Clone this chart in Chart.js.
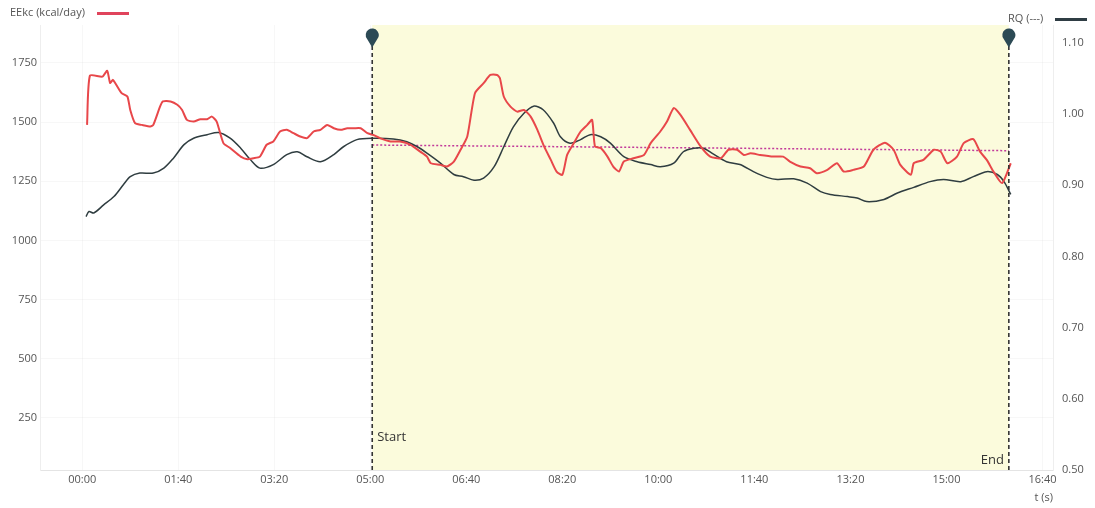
<!DOCTYPE html>
<html lang="en">
<head>
    <meta charset="UTF-8">
    <title>EEkc / RQ</title>
    <script src="https://cdn.jsdelivr.net/npm/chart.js"></script>
    <style>
        body { margin: 0; background: #fff; }
        .wrap { position: relative; width: 1095px; height: 508px; }
        .legend { position: absolute; font-family: 'Open Sans', sans-serif; font-size: 11px; color: #555; }
        .legend .swatch { display: inline-block; width: 32px; height: 3px; vertical-align: middle; margin-left: 12px; }
    </style>
</head>
<body>
<div class="wrap">
    <canvas id="chart"></canvas>
    <div class="legend" style="left:10px; top:4px;">EEkc (kcal/day)<span class="swatch" style="background:#e0445c"></span></div>
    <div class="legend" style="left:1008px; top:10px;">RQ (---)<span class="swatch" style="background:#2f3d44"></span></div>
</div>

<script>
    // EE (kcal/day), left axis
    const eeTimes = [5, 8, 21, 26, 29, 32, 41, 47, 50, 55, 62, 71, 74, 81, 84, 92, 99, 104, 109, 116, 123, 130, 135, 140,
        147, 154, 165, 172, 178, 185, 192, 199, 206, 213, 220, 227, 234, 241, 248, 255, 262, 269, 276, 283, 290, 297,
        303, 310, 321, 331, 342, 352, 359, 363, 373, 380, 387, 394, 401, 409, 418, 425, 432, 435, 439, 446, 453, 460,
        467, 474, 481, 488, 494, 500, 505, 512, 519, 526, 531, 534, 540, 547, 553, 559, 564, 574, 585, 592, 602, 609,
        616, 623, 633, 644, 654, 665, 673, 682, 689, 696, 706, 720, 730, 737, 748, 758, 765, 776, 786, 793, 803, 814,
        824, 836, 845, 852, 863, 866, 876, 887, 894, 901, 911, 918, 928, 935, 942, 949, 958, 967];
    const eeValues = [1488, 1696, 1692, 1717, 1665, 1678, 1622, 1608, 1551, 1495, 1488, 1481, 1488, 1565, 1587, 1587, 1573, 1551, 1509, 1502, 1512, 1512, 1523, 1502,
        1411, 1390, 1354, 1343, 1347, 1354, 1404, 1418, 1460, 1467, 1453, 1439, 1432, 1460, 1467, 1488, 1474, 1467, 1474, 1474, 1474, 1453,
        1446, 1432, 1418, 1418, 1404, 1375, 1354, 1326, 1319, 1312, 1333, 1383, 1439, 1622, 1664, 1699, 1699, 1685, 1608, 1565, 1544, 1551,
        1523, 1467, 1397, 1340, 1291, 1277, 1361, 1411, 1460, 1488, 1509, 1397, 1390, 1354, 1312, 1291, 1333, 1347, 1361, 1411, 1460, 1502,
        1559, 1530, 1467, 1397, 1354, 1347, 1383, 1383, 1361, 1368, 1361, 1354, 1354, 1333, 1312, 1305, 1284, 1298, 1326, 1291, 1298, 1312,
        1383, 1413, 1383, 1319, 1277, 1326, 1340, 1383, 1375, 1326, 1354, 1411, 1428, 1375, 1340, 1291, 1242, 1326];

    // RQ, right axis
    const rqTimes = [4, 7, 12, 22, 33, 43, 50, 60, 74, 85, 95, 106, 116, 130, 142, 154, 165, 175, 185, 199, 213, 224, 234, 248,
        262, 272, 286, 303, 324, 338, 349, 359, 373, 387, 397, 408, 418, 429, 439, 449, 460, 470, 480, 491, 498, 508,
        519, 529, 540, 550, 564, 578, 592, 602, 616, 626, 637, 647, 657, 671, 685, 699, 713, 724, 741, 755, 769, 779,
        797, 807, 817, 835, 849, 866, 883, 897, 915, 928, 942, 953, 960, 967];
    const rqValues = [0.856, 0.863, 0.861, 0.872, 0.884, 0.901, 0.912, 0.917, 0.917, 0.924, 0.938, 0.957, 0.966, 0.971, 0.974, 0.966, 0.952, 0.936, 0.924, 0.929, 0.943, 0.947, 0.940, 0.933,
        0.943, 0.954, 0.964, 0.966, 0.965, 0.961, 0.954, 0.945, 0.931, 0.915, 0.912, 0.907, 0.910, 0.926, 0.954, 0.982, 1.001, 1.011, 1.006, 0.987, 0.968, 0.959,
        0.964, 0.971, 0.968, 0.959, 0.940, 0.933, 0.929, 0.926, 0.931, 0.947, 0.952, 0.952, 0.944, 0.933, 0.929, 0.919, 0.911, 0.908, 0.909, 0.903, 0.891, 0.887,
        0.884, 0.882, 0.877, 0.880, 0.889, 0.897, 0.905, 0.908, 0.905, 0.912, 0.919, 0.915, 0.905, 0.887];

    // EE trend over the measurement window
    const trendTimes = [302, 965];
    const trendValues = [1403, 1379];

    // Start / End markers
    const markerTimes = [302, 965];
    const markerLabels = ['Start', 'End'];

    const xTicks = [0, 100, 200, 300, 400, 500, 600, 700, 800, 900, 1000];
    const eeTicks = [250, 500, 750, 1000, 1250, 1500, 1750];
    const rqTicks = [0.5, 0.6, 0.7, 0.8, 0.9, 1.0, 1.1];

    function toPoints(xs, ys) {
        return xs.map((x, i) => ({ x: x, y: ys[i] }));
    }

    function mmss(v) {
        const m = Math.floor(v / 60), s = v % 60;
        return String(m).padStart(2, '0') + ':' + String(s).padStart(2, '0');
    }

    // 측정 구간 배경 + 마커
    const windowPlugin = {
        id: 'windowPlugin',
        beforeDatasetsDraw(chart) {
            const ctx = chart.ctx, a = chart.chartArea, x = chart.scales.x;
            const x1 = x.getPixelForValue(markerTimes[0]);
            const x2 = x.getPixelForValue(markerTimes[1]);
            ctx.save();
            ctx.fillStyle = '#fbfbdc';
            ctx.fillRect(x1, a.top, x2 - x1, a.bottom - a.top);
            ctx.restore();
        },
        afterDatasetsDraw(chart) {
            const ctx = chart.ctx, a = chart.chartArea, x = chart.scales.x;
            ctx.save();
            markerTimes.forEach((t, i) => {
                const px = x.getPixelForValue(t);
                ctx.strokeStyle = '#333';
                ctx.lineWidth = 1.6;
                ctx.setLineDash([4, 3]);
                ctx.beginPath();
                ctx.moveTo(px, a.top + 21);
                ctx.lineTo(px, a.bottom);
                ctx.stroke();
                ctx.setLineDash([]);
                // pin
                const cy = a.top + 10, r = 6.5;
                ctx.fillStyle = '#2c4a55';
                ctx.beginPath();
                ctx.arc(px, cy, r, Math.PI * 0.8, Math.PI * 0.2);
                ctx.lineTo(px, cy + r + 6);
                ctx.closePath();
                ctx.fill();
                // label
                ctx.fillStyle = '#333';
                ctx.font = '13px "Open Sans", sans-serif';
                ctx.textBaseline = 'middle';
                if (i === 0) {
                    ctx.textAlign = 'left';
                    ctx.fillText(markerLabels[i], px + 5, a.bottom - 33);
                } else {
                    ctx.textAlign = 'right';
                    ctx.fillText(markerLabels[i], px - 5, a.bottom - 10);
                }
            });
            ctx.restore();
        }
    };

    const tickFont = { family: "'Open Sans', sans-serif", size: 11 };

    new Chart(document.getElementById('chart'), {
        type: 'line',
        data: {
            datasets: [
                {
                    label: 'EEkc (kcal/day)',
                    data: toPoints(eeTimes, eeValues),
                    borderColor: '#e8474a',
                    borderWidth: 2,
                    pointRadius: 0,
                    tension: 0.2,
                    yAxisID: 'y'
                },
                {
                    label: 'RQ (---)',
                    data: toPoints(rqTimes, rqValues),
                    borderColor: '#2f3d40',
                    borderWidth: 1.5,
                    pointRadius: 0,
                    tension: 0.3,
                    yAxisID: 'y2'
                },
                {
                    label: 'trend',
                    data: toPoints(trendTimes, trendValues),
                    borderColor: '#c2399a',
                    borderWidth: 1.5,
                    borderDash: [2, 2],
                    pointRadius: 0,
                    yAxisID: 'y'
                }
            ]
        },
        options: {
            responsive: true,
            maintainAspectRatio: false,
            animation: false,
            layout: { padding: { top: 25 } },
            plugins: {
                legend: { display: false },
                tooltip: { enabled: false }
            },
            scales: {
                x: {
                    type: 'linear',
                    min: -44,
                    max: 1011,
                    afterBuildTicks: s => { s.ticks = xTicks.map(v => ({ value: v })); },
                    afterFit: s => { s.height = 38; },
                    ticks: { color: '#555', font: tickFont, padding: 3, maxRotation: 0, callback: v => mmss(v) },
                    grid: { color: 'rgba(0,0,0,0.03)', drawTicks: false },
                    border: { color: '#e4e4e4' },
                    title: { display: true, text: 't (s)', align: 'end', color: '#555', font: tickFont, padding: { top: 0 } }
                },
                y: {
                    position: 'left',
                    min: 30,
                    max: 1910,
                    afterBuildTicks: s => { s.ticks = eeTicks.map(v => ({ value: v })); },
                    afterFit: s => { s.width = 40; },
                    ticks: { color: '#555', font: tickFont, padding: 3, callback: v => String(v) },
                    grid: { color: 'rgba(0,0,0,0.03)', drawTicks: false },
                    border: { color: '#eeeeee' }
                },
                y2: {
                    position: 'right',
                    min: 0.5,
                    max: 1.125,
                    afterBuildTicks: s => { s.ticks = rqTicks.map(v => ({ value: v })); },
                    afterFit: s => { s.width = 42; },
                    ticks: { color: '#555', font: tickFont, padding: 9, callback: v => v.toFixed(2) },
                    grid: { display: false, drawTicks: false },
                    border: { color: '#eeeeee' }
                }
            }
        },
        plugins: [windowPlugin]
    });
</script>
</body>
</html>
